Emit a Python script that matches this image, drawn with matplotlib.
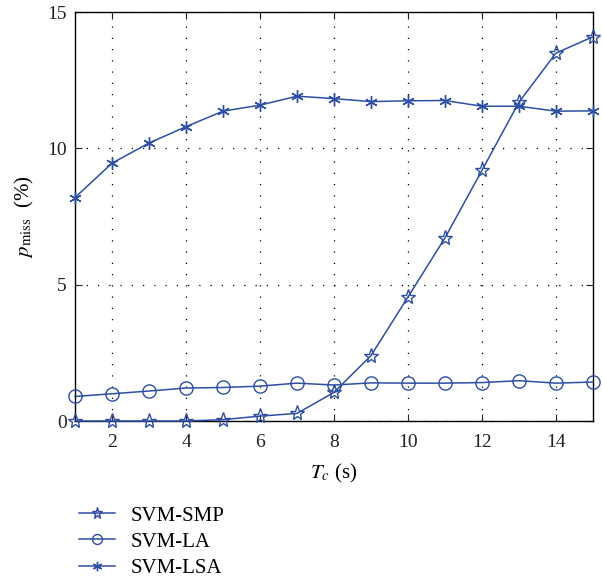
import numpy as np
import matplotlib.pyplot as plt

plt.rcParams['font.family'] = ['Liberation Serif', 'DejaVu Serif']
plt.rcParams['mathtext.fontset'] = 'stix'

# T_c in seconds
tc = np.arange(1, 16)

# miss probability (%) for each method
svm_smp = [0, 0, 0, 0, 0.05, 0.18, 0.28, 1.05, 2.4, 4.55, 6.72, 9.2, 11.7, 13.5, 14.1]
svm_la = [0.9, 1.0, 1.1, 1.21, 1.23, 1.28, 1.39, 1.32, 1.4, 1.39, 1.39, 1.41, 1.48, 1.39, 1.43]
svm_lsa = [8.2, 9.46, 10.2, 10.8, 11.37, 11.59, 11.92, 11.83, 11.72, 11.75, 11.76, 11.55, 11.55, 11.37, 11.38]

blue = '#2c4ea3'

fig = plt.figure(figsize=(6.02, 5.82), dpi=100)
ax = fig.add_axes([0.1246, 0.2766, 0.8604, 0.7024])

ax.plot(tc, svm_smp, color=blue, lw=1.1, marker='*', ms=11, mfc='none', mew=1.0,
        label='SVM-SMP', clip_on=False, zorder=3)
ax.plot(tc, svm_la, color=blue, lw=1.1, marker='o', ms=9.5, mfc='none', mew=1.0,
        label='SVM-LA', clip_on=False, zorder=3)
ax.plot(tc, svm_lsa, color=blue, lw=1.1, marker=(6, 2, 0), ms=9, mew=1.0,
        label='SVM-LSA', clip_on=False, zorder=3)

ax.set_xlim(1, 15)
ax.set_ylim(0, 15)
ax.set_xticks([2, 4, 6, 8, 10, 12, 14])
ax.set_yticks([0, 5, 10, 15])
ax.grid(True, color='black', linestyle=(0, (1, 8)), linewidth=0.9)
ax.tick_params(direction='in', top=True, right=True, labelsize=14, length=5,
               colors='#222222')
ax.tick_params(axis='x', pad=9)
ax.tick_params(axis='y', pad=6)
for s in ax.spines.values():
    s.set_linewidth(1.0)

ax.set_xlabel('$T_c$ (s)', fontsize=15, labelpad=8)
ax.set_ylabel(r'$p_{\mathrm{miss}}$  (%)', fontsize=15, labelpad=8)

fig.legend(loc='upper left', bbox_to_anchor=(0.118, 0.145), frameon=False,
           fontsize=15, handlelength=1.7, labelspacing=0.32, handletextpad=0.75,
           markerscale=0.75, borderaxespad=0)

fig.savefig('out.png', dpi=100)
